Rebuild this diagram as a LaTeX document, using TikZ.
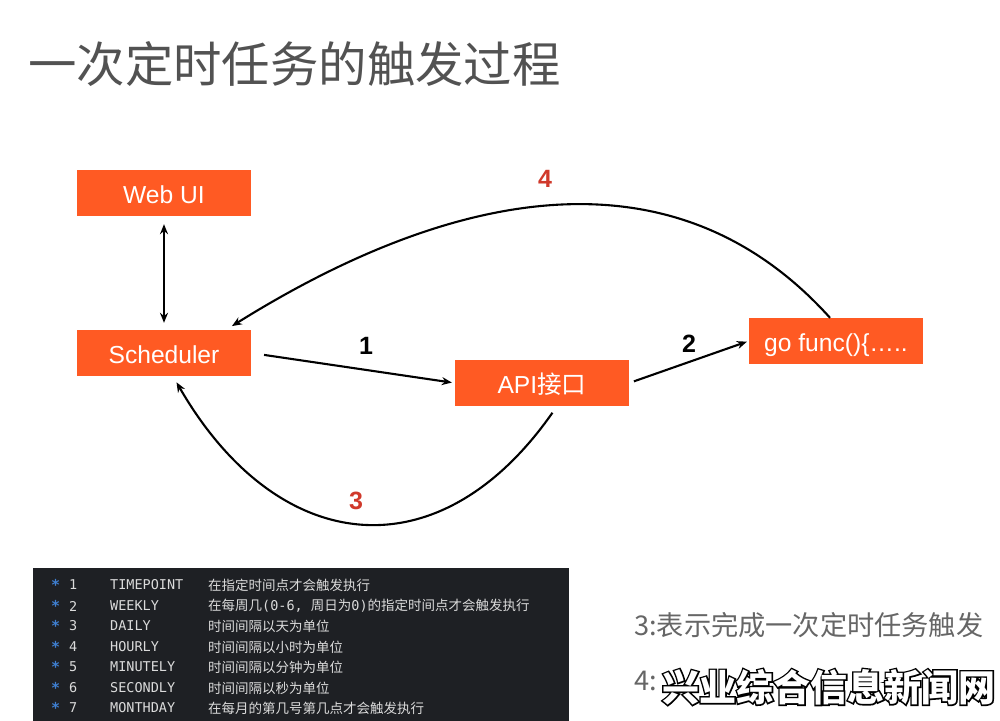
\documentclass[tikz,border=0pt]{standalone}
\usepackage{fontspec}
\usepackage{xcolor}
\setmainfont{Noto Sans CJK SC}
\setmonofont{DejaVu Sans Mono}
\newfontfamily\cjk{Noto Sans CJK SC}
\newfontfamily\latin{Liberation Sans}
\newfontfamily\markedge[BoldFeatures={FakeBold=8}]{Noto Sans CJK SC}
\usetikzlibrary{positioning,arrows.meta}
\definecolor{boxfill}{HTML}{FF5A23}
\definecolor{panelfill}{HTML}{1E2024}
\definecolor{stepred}{HTML}{D0392B}
\definecolor{starblue}{HTML}{3F7FD0}
\newcommand{\fs}[1]{\fontsize{#1}{#1}\selectfont}
\tikzset{box/.style={rectangle,fill=boxfill,text=white,minimum width=174pt,minimum height=46pt,inner sep=0pt,text height=24pt,text depth=3pt,font=\fs{24.6}\latin},
  arrowline/.style={line width=2.1pt},
  steplabel/.style={font=\fs{25}\latin\bfseries,inner sep=0pt},
  termtext/.style={anchor=west,inner sep=0pt,text=black!14,font=\fs{13.5}\ttfamily},
  notetext/.style={anchor=west,inner sep=0pt,text=black!60,font=\fs{27.2}},
  marktext/.style={anchor=west,inner sep=0pt}}

\begin{document}
\begin{tikzpicture}[>={Stealth[length=10pt,width=8pt]},x=1pt,y=-1pt]
    \useasboundingbox (0,0) rectangle (1000,720);
    \node[anchor=west,inner sep=0pt,text=black!68,font=\fs{48.4}] (title) at (28,64) {一次定时任务的触发过程};

    \node[box] (web) at (164,193) {Web UI};
    \node[box] (sched) at (164,353) {Scheduler};
    \node[box] (api) at (542,383) {API{\cjk 接口}};
    \node[box] (gofunc) at (836,341) {go func()\{…..};

    \draw [<->,arrowline,shorten <=8pt,shorten >=7pt] (web.south) -- (sched.north);
    \draw [->,arrowline,shorten <=13pt,shorten >=3pt] (sched.east) -- node[steplabel,above=12pt,xshift=13pt]{1} (api.west);
    \draw [->,arrowline,shorten <=5pt,shorten >=2pt] (api.east) -- node[steplabel,above=8pt]{2} (gofunc.west);
    \draw [->,arrowline,shorten <=8pt,shorten >=7pt] ([xshift=15pt]api.south) to [out=-125,in=-60,looseness=1.38] ([xshift=9pt]sched.south);
    \draw [->,arrowline,shorten >=7pt] ([xshift=-6pt]gofunc.north) to [out=132,in=32,looseness=1.04] ([xshift=62pt]sched.north);
    \node[steplabel,text=stepred] (three) at (356,501) {3};
    \node[steplabel,text=stepred] (four) at (545,179) {4};

    \begin{scope}
        \clip (0,0) rectangle (1000,720);
        \node[rectangle,fill=panelfill,minimum width=536pt,minimum height=160pt,inner sep=0pt,anchor=north west] (panel) at (33,568) {};
    \end{scope}
    \foreach \i/\ypos/\keyword/\desctext in {
        1/585/TIMEPOINT/在指定时间点才会触发执行,
        2/606/WEEKLY/{在每周几{\ttfamily(0-6, }周日为{\ttfamily 0)}的指定时间点才会触发执行},
        3/626/DAILY/时间间隔以天为单位,
        4/647/HOURLY/时间间隔以小时为单位,
        5/667/MINUTELY/时间间隔以分钟为单位,
        6/688/SECONDLY/时间间隔以秒为单位,
        7/708/MONTHDAY/在每月的第几号第几点才会触发执行} {
        \node[termtext,text=starblue,font=\fs{15}\ttfamily\bfseries] (star\i) at (51,\ypos) {*};
        \node[termtext] (num\i) at (69,\ypos) {\i};
        \node[termtext] (key\i) at (110,\ypos) {\keyword};
        \node[termtext] (desc\i) at (208,\ypos) {\cjk\desctext};
    }

    \node[notetext] (note3) at (634,625) {3:表示完成一次定时任务触发};
    \node[notetext] (note4) at (634,681) {4:};
    \node[marktext,text=black,font=\fs{37}\markedge\bfseries] (markback) at (662,687) {兴业综合信息新闻网};
    \node[marktext,text=white,font=\fs{37}\bfseries] (mark) at (662,687) {兴业综合信息新闻网};
\end{tikzpicture}
\end{document}
